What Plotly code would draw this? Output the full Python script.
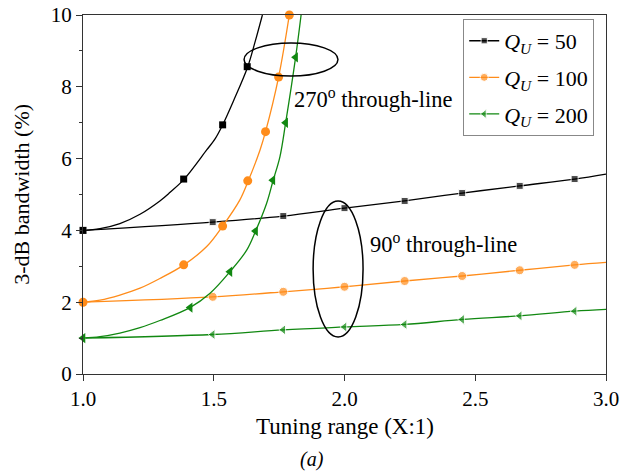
import plotly.graph_objects as go

# ---- data ----
# 90-degree through-line curves (line samples and markers)
x90_line = [1.0, 1.496, 1.766, 2.0, 2.23, 2.45, 2.67, 2.88, 3.0]
y90_q50 = [4.0, 4.23, 4.40, 4.62, 4.82, 5.04, 5.24, 5.43, 5.57]
y90_q100 = [2.0, 2.15, 2.29, 2.43, 2.59, 2.73, 2.89, 3.04, 3.11]
y90_q200 = [1.0, 1.10, 1.23, 1.31, 1.38, 1.52, 1.62, 1.75, 1.80]
marker90 = [1, 1, 1, 1, 1, 1, 1, 1, 0]

# 270-degree through-line curves: line samples
x270_q50 = [1.0, 1.065, 1.141, 1.218, 1.294, 1.333, 1.386, 1.473, 1.505, 1.534, 1.575, 1.630, 1.658, 1.686]
y270_q50 = [4.0, 4.05, 4.19, 4.45, 4.82, 5.06, 5.42, 6.24, 6.55, 6.94, 7.60, 8.56, 9.25, 10.0]
x270_q100 = [1.0, 1.065, 1.141, 1.218, 1.294, 1.386, 1.473, 1.534, 1.600, 1.632, 1.677, 1.698, 1.748, 1.789]
y270_q100 = [2.0, 2.06, 2.20, 2.39, 2.66, 3.04, 3.55, 4.12, 4.85, 5.38, 6.24, 6.75, 8.27, 10.0]
x270_q200 = [1.0, 1.065, 1.141, 1.218, 1.294, 1.409, 1.486, 1.562, 1.626, 1.660, 1.702, 1.727, 1.753, 1.775, 1.813, 1.834]
y270_q200 = [1.0, 1.04, 1.14, 1.29, 1.49, 1.85, 2.25, 2.85, 3.45, 3.98, 4.75, 5.39, 6.05, 7.0, 8.82, 10.0]

# 270-degree markers
xm270_q50 = [1.0, 1.385, 1.534, 1.628]
ym270_q50 = [4.0, 5.43, 6.94, 8.56]
xm270_q100 = [1.0, 1.385, 1.534, 1.630, 1.698, 1.748, 1.789]
ym270_q100 = [2.0, 3.04, 4.12, 5.38, 6.75, 8.27, 10.0]
xm270_q200 = [1.0, 1.410, 1.562, 1.660, 1.726, 1.775, 1.813]
ym270_q200 = [1.0, 1.85, 2.85, 3.98, 5.40, 7.0, 8.82]

legend_names = ["<i>Q<sub>U</sub></i> = 50", "<i>Q<sub>U</sub></i> = 100", "<i>Q<sub>U</sub></i> = 200"]
colors = ["#000000", "#FF8C1A", "#118811"]
symbols = ["square", "circle", "triangle-left"]
msizes = [7, 9, 9]

FONT = "Liberation Serif"

fig = go.Figure()

series90 = [y90_q50, y90_q100, y90_q200]
lines270 = [(x270_q50, y270_q50), (x270_q100, y270_q100), (x270_q200, y270_q200)]
marks270 = [(xm270_q50, ym270_q50), (xm270_q100, ym270_q100), (xm270_q200, ym270_q200)]

for i in range(3):
    fig.add_trace(go.Scatter(
        x=x90_line, y=series90[i], mode="lines+markers", name=legend_names[i],
        line=dict(color=colors[i], width=1.3, shape="spline", smoothing=1.0),
        marker=dict(symbol=symbols[i], color=colors[i],
                    size=[msizes[i] if m else 0 for m in marker90]),
        legendgroup=f"g{i}", cliponaxis=False, showlegend=True))
    fig.add_trace(go.Scatter(
        x=lines270[i][0], y=lines270[i][1], mode="lines",
        line=dict(color=colors[i], width=1.3, shape="spline", smoothing=1.0),
        legendgroup=f"g{i}", showlegend=False, hoverinfo="skip"))
    fig.add_trace(go.Scatter(
        x=marks270[i][0], y=marks270[i][1], mode="markers",
        marker=dict(symbol=symbols[i], color=colors[i], size=msizes[i]),
        legendgroup=f"g{i}", cliponaxis=False, showlegend=False))

# ellipses
fig.add_shape(type="circle", xref="x", yref="y", x0=1.616, x1=1.975, y0=8.30, y1=9.22,
              line=dict(color="black", width=1.5))
fig.add_shape(type="circle", xref="x", yref="y", x0=1.880, x1=2.071, y0=1.03, y1=4.82,
              line=dict(color="black", width=1.5))

fig.add_annotation(x=1.799, y=7.69, xref="x", yref="y", xanchor="left", yanchor="middle",
                   text="270<sup>o</sup> through-line", showarrow=False,
                   font=dict(family=FONT, size=22.5, color="black"))
fig.add_annotation(x=2.090, y=3.65, xref="x", yref="y", xanchor="left", yanchor="middle",
                   text="90<sup>o</sup> through-line", showarrow=False,
                   font=dict(family=FONT, size=22.5, color="black"))
# axis titles
fig.add_annotation(x=0.5, y=-0.147, xref="paper", yref="paper", xanchor="center",
                   yanchor="middle", text="Tuning range (X:1)", showarrow=False,
                   font=dict(family=FONT, size=23, color="black"))
fig.add_annotation(x=-0.118, y=0.5, xref="paper", yref="paper", xanchor="center",
                   yanchor="middle", text="3-dB bandwidth (%)", textangle=-90, showarrow=False,
                   font=dict(family=FONT, size=22, color="black"))
fig.add_annotation(x=0.438, y=-0.237, xref="paper", yref="paper", xanchor="center",
                   yanchor="middle", text="<i>(a)</i>", showarrow=False,
                   font=dict(family=FONT, size=20, color="black"))

fig.update_xaxes(range=[1.0, 3.0], tickvals=[1.0, 1.5, 2.0, 2.5, 3.0],
                 ticktext=["1.0", "1.5", "2.0", "2.5", "3.0"], automargin=False,
                 ticks="outside", ticklen=6, tickcolor="#333", showgrid=False, zeroline=False,
                 showline=True, linecolor="#333", linewidth=1.3, mirror=True,
                 tickfont=dict(family=FONT, size=21, color="black"))
fig.update_yaxes(range=[0, 10], tickvals=[0, 2, 4, 6, 8, 10], automargin=False,
                 ticks="outside", ticklen=6, tickcolor="#333", showgrid=False, zeroline=False,
                 minor=dict(tickvals=[1, 3, 5, 7, 9], ticks="outside", ticklen=3, tickcolor="#333"),
                 showline=True, linecolor="#333", linewidth=1.3, mirror=True,
                 tickfont=dict(family=FONT, size=21, color="black"))

fig.update_layout(
    width=623, height=472,
    margin=dict(l=83, r=17, t=15, b=98),
    plot_bgcolor="white", paper_bgcolor="white",
    legend=dict(x=0.727, y=0.989, xanchor="left", yanchor="top",
                bordercolor="#888", borderwidth=1, bgcolor="white",
                font=dict(family=FONT, size=22, color="black"),
                tracegroupgap=5),
)

fig.write_html("out.html")
